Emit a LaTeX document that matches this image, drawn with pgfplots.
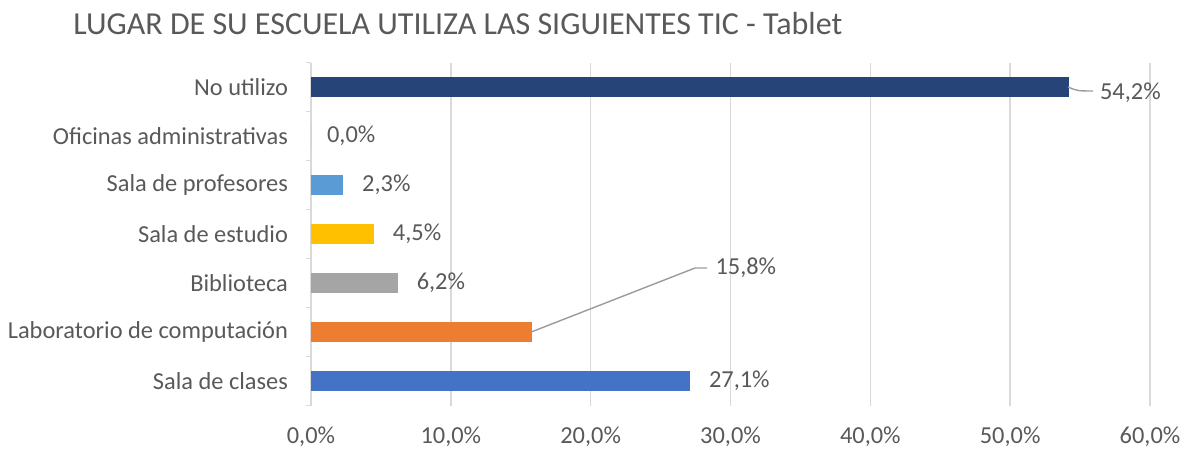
\documentclass[border=0pt]{standalone}
\usepackage{pgfplots}
\pgfplotsset{compat=1.18}
\usepackage{fontspec}
\setmainfont{Carlito}
\definecolor{txt}{HTML}{595959}
\definecolor{grd}{HTML}{D9D9D9}
\definecolor{cNo}{HTML}{264478}
\definecolor{cOf}{HTML}{A5A5A5}
\definecolor{cPr}{HTML}{5B9BD5}
\definecolor{cEs}{HTML}{FFC000}
\definecolor{cBi}{HTML}{A5A5A5}
\definecolor{cLa}{HTML}{ED7D31}
\definecolor{cCl}{HTML}{4472C4}
\begin{document}
\begin{tikzpicture}
\path[use as bounding box] (-155.5pt,-22.75pt) rectangle (438pt,202.75pt);
\node[anchor=base west, text=txt, font=\fontsize{16}{19}\selectfont, inner sep=0pt] at (-119pt,185.5pt) {LUGAR DE SU ESCUELA UTILIZA LAS SIGUIENTES TIC - Tablet};
\begin{axis}[
  at={(0,0)}, anchor=south west,
  scale only axis, width=419.5pt, height=171.5pt,
  clip=false,
  xmin=0, xmax=60, ymin=-0.5, ymax=6.5,
  xbar, bar width=10pt, bar shift=0pt,
  axis x line*=bottom, axis y line*=left,
  x axis line style={draw=none},
  y axis line style={draw=grd, line width=0.8pt},
  xtick={0,10,20,30,40,50,60},
  xticklabels={{0,0\%},{10,0\%},{20,0\%},{30,0\%},{40,0\%},{50,0\%},{60,0\%}},
  xmajorgrids, major grid style={draw=grd, line width=0.8pt},
  major tick length=0pt,
  ytick={0,1,2,3,4,5,6},
  yticklabels={Sala de clases,Laboratorio de computación,Biblioteca,Sala de estudio,Sala de profesores,Oficinas administrativas,No utilizo},
  minor ytick={-0.5,0.5,1.5,2.5,3.5,4.5,5.5,6.5},
  minor tick length=2.5pt, tick align=outside,
  minor tick style={draw=grd, line width=0.8pt},
  tick label style={text=txt, font=\fontsize{12.2}{14}\selectfont},
  xticklabel style={yshift=-7pt},
  yticklabel style={xshift=-8pt},
  nodes near coords style={text=txt, font=\fontsize{12.2}{14}\selectfont},
]
\addplot[fill=cCl, draw=none, nodes near coords={27,1\%}, nodes near coords style={anchor=west, xshift=6pt}] coordinates {(27.1,0)};
\addplot[fill=cLa, draw=none] coordinates {(15.8,1)};
\addplot[fill=cBi, draw=none, nodes near coords={6,2\%}, nodes near coords style={anchor=west, xshift=6pt}] coordinates {(6.2,2)};
\addplot[fill=cEs, draw=none, nodes near coords={4,5\%}, nodes near coords style={anchor=west, xshift=6pt}] coordinates {(4.5,3)};
\addplot[fill=cPr, draw=none, nodes near coords={2,3\%}, nodes near coords style={anchor=west, xshift=6pt}] coordinates {(2.3,4)};
\addplot[fill=cOf, draw=none, nodes near coords={0,0\%}, nodes near coords style={anchor=west, xshift=4.5pt}] coordinates {(0,5)};
\addplot[fill=cNo, draw=none] coordinates {(54.2,6)};
\draw[color=txt!60, line width=0.7pt] (axis cs:15.75,1.0) -- (axis cs:27.46,2.306) -- (axis cs:28.32,2.306);
\node[anchor=west, text=txt, font=\fontsize{12.2}{14}\selectfont, inner sep=0pt] at (axis cs:28.9,2.306) {15,8\%};
\draw[color=txt!60, line width=0.7pt] (axis cs:54.14,6.0) .. controls (axis cs:54.8,5.92) .. (axis cs:55.93,5.918);
\node[anchor=west, text=txt, font=\fontsize{12.2}{14}\selectfont, inner sep=0pt] at (axis cs:56.4,5.878) {54,2\%};
\end{axis}
\end{tikzpicture}
\end{document}
